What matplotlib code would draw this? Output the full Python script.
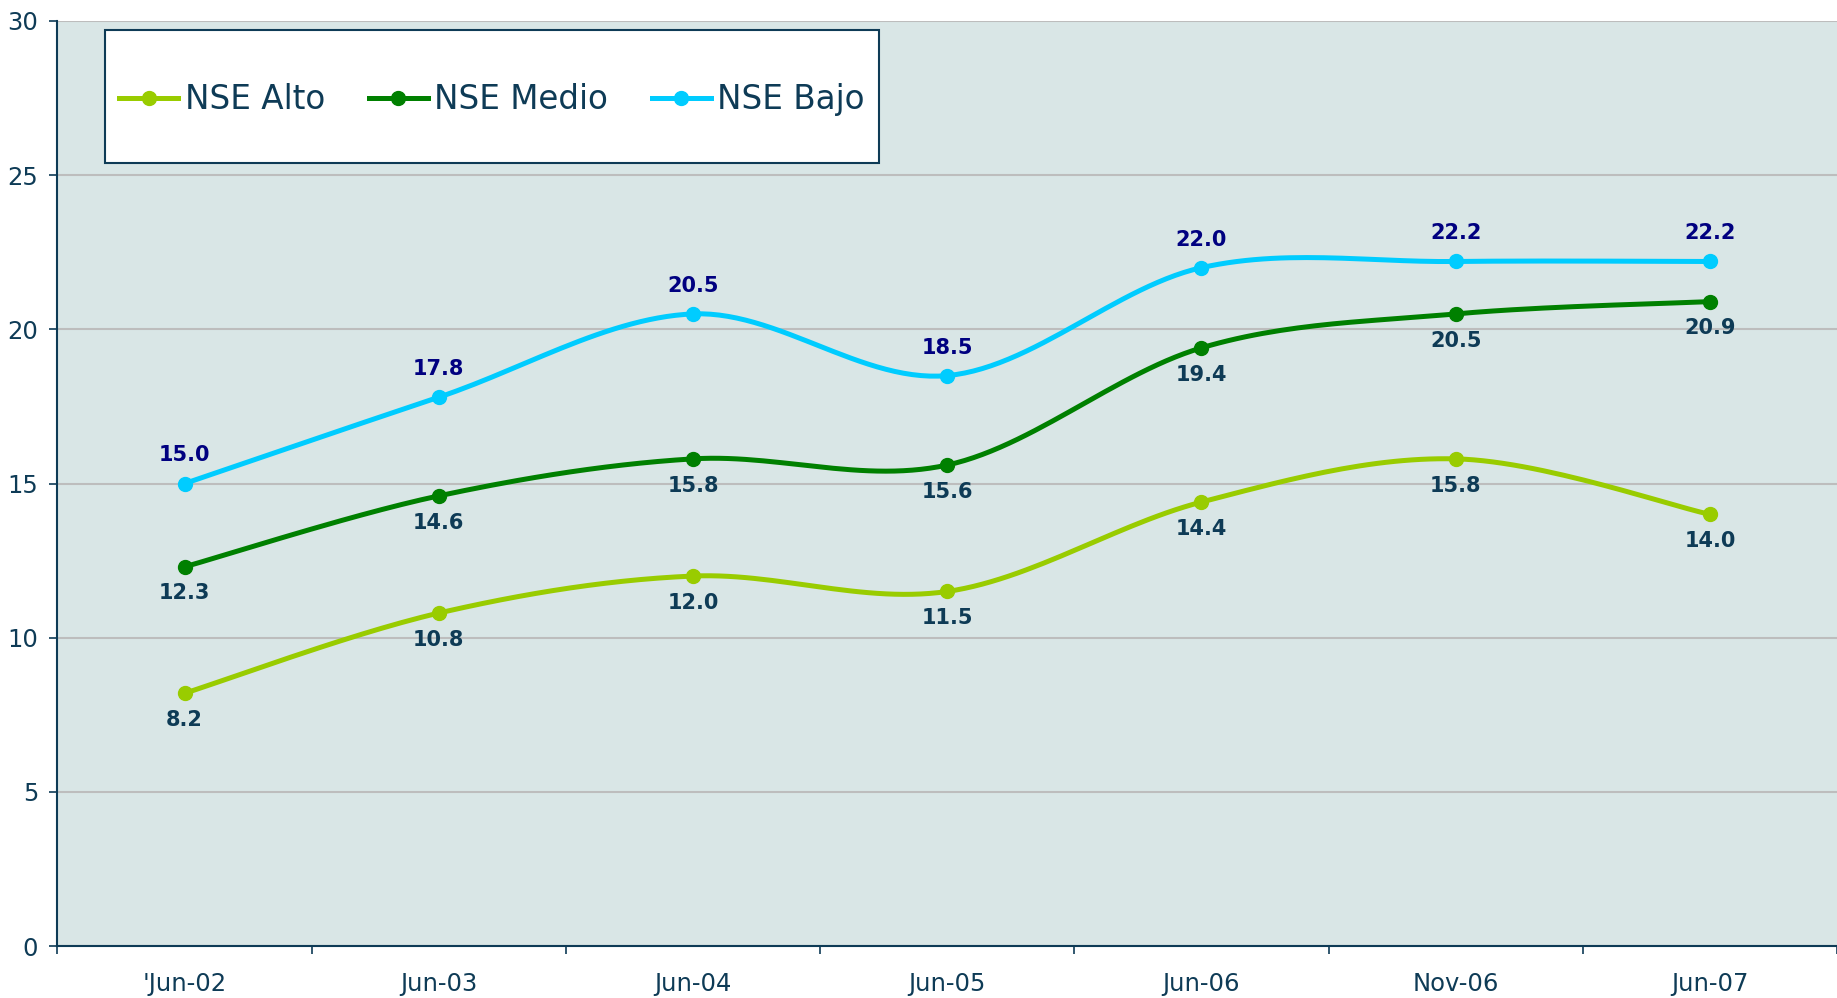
import numpy as np
import matplotlib
matplotlib.use("Agg")
import matplotlib.pyplot as plt
from matplotlib.lines import Line2D
from matplotlib.patches import Rectangle

categories = ["'Jun-02", "Jun-03", "Jun-04", "Jun-05", "Jun-06", "Nov-06", "Jun-07"]
nse_alto = [8.2, 10.8, 12.0, 11.5, 14.4, 15.8, 14.0]
nse_medio = [12.3, 14.6, 15.8, 15.6, 19.4, 20.5, 20.9]
nse_bajo = [15.0, 17.8, 20.5, 18.5, 22.0, 22.2, 22.2]
series_names = ["NSE Alto", "NSE Medio", "NSE Bajo"]
colors = ["#99CC00", "#008000", "#00CCFF"]

TXT = "#0E3B56"


def smooth(xs, ys, n=30):
    """Excel-style smoothed line (Bezier through the data points)."""
    xs = np.asarray(xs, float)
    ys = np.asarray(ys, float)
    px = np.concatenate([[xs[0]], xs, [xs[-1]]])
    py = np.concatenate([[ys[0]], ys, [ys[-1]]])
    ox, oy = [], []
    for i in range(1, len(px) - 2):
        p0, p1, p2, p3 = (np.array([px[j], py[j]]) for j in (i - 1, i, i + 1, i + 2))
        c1 = p1 + (p2 - p0) / 6
        c2 = p2 - (p3 - p1) / 6
        t = np.linspace(0, 1, n)[:, None]
        b = ((1 - t) ** 3) * p1 + 3 * ((1 - t) ** 2) * t * c1 + 3 * (1 - t) * t ** 2 * c2 + t ** 3 * p2
        ox.extend(b[:, 0]); oy.extend(b[:, 1])
    return np.array(ox), np.array(oy)


fig = plt.figure(figsize=(18.37, 9.98), dpi=100)
ax = fig.add_axes([0.0313, 0.052, 0.9687, 0.927])
ax.set_facecolor("#D9E6E6")

x = np.arange(len(categories))
data = [nse_alto, nse_medio, nse_bajo]
for vals, col, name in zip(data, colors, series_names):
    sx, sy = smooth(x, vals)
    ax.plot(sx, sy, color=col, lw=3.6, zorder=3, solid_capstyle="round")
    ax.plot(x, vals, "o", color=col, ms=10, zorder=4)

for xi, v in zip(x, nse_bajo):
    ax.annotate(f"{v:.1f}", (xi, v), xytext=(0, 13), textcoords="offset points",
                ha="center", va="bottom", fontsize=15, fontweight="bold", color="#000080")
for series in (nse_alto, nse_medio):
    for xi, v in zip(x, series):
        ax.annotate(f"{v:.1f}", (xi, v), xytext=(0, -12), textcoords="offset points",
                    ha="center", va="top", fontsize=15, fontweight="bold", color="#0E3B56")

ax.set_xlim(-0.5, 6.5)
ax.set_ylim(0, 30)
ax.set_yticks(range(0, 31, 5))
ax.yaxis.grid(True, color="#BDBDBD", lw=1.5)
ax.set_axisbelow(True)
ax.set_xticks(x)
ax.set_xticklabels(categories)
ax.set_xticks(np.arange(-0.5, 6.6, 1), minor=True)
ax.tick_params(axis="x", which="major", length=0, pad=19, labelsize=17.5, labelcolor=TXT)
ax.tick_params(axis="x", which="minor", length=6, width=1.2, color=TXT)
ax.tick_params(axis="y", length=6, width=1.2, color=TXT, pad=8, labelsize=17.5, labelcolor=TXT)
for s in ("top", "right"):
    ax.spines[s].set_visible(False)
for s in ("left", "bottom"):
    ax.spines[s].set_color(TXT)
    ax.spines[s].set_linewidth(1.5)

# legend box
bx, by, bw, bh = 0.0267, 0.8465, 0.435, 0.1432
ax.add_patch(Rectangle((bx, by), bw, bh, transform=ax.transAxes, facecolor="white",
                       edgecolor=TXT, lw=1.5, zorder=5))
handles = [Line2D([], [], color=c, lw=3.6, marker="o", ms=10) for c in colors]
leg = ax.legend(handles, series_names, loc="center", bbox_to_anchor=(bx + bw / 2, by + bh / 2 - 0.003),
                ncol=3, fontsize=23.5, frameon=False, handlelength=1.8, handletextpad=0.2,
                columnspacing=1.35, borderpad=0, borderaxespad=0)
leg.set_zorder(6)
for t in leg.get_texts():
    t.set_color(TXT)

fig.savefig("out.png", dpi=100)
